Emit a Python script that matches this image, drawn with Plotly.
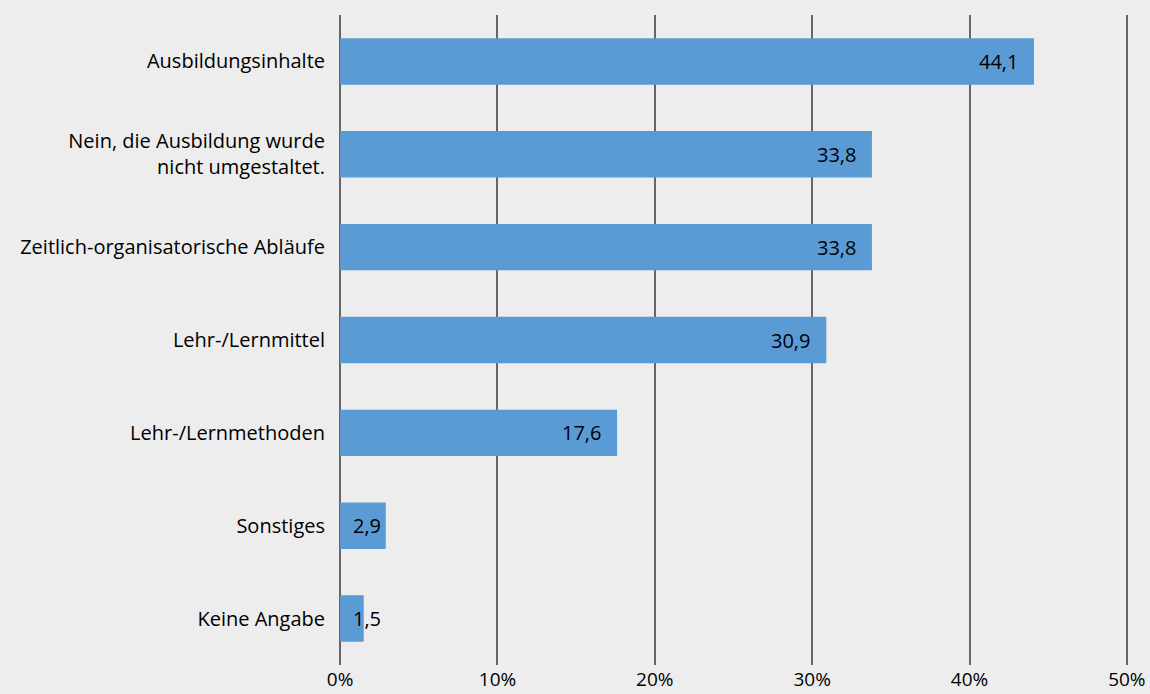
import plotly.graph_objects as go

categories = [
    "Ausbildungsinhalte",
    "Nein, die Ausbildung wurde<br>nicht umgestaltet.",
    "Zeitlich-organisatorische Abläufe",
    "Lehr-/Lernmittel",
    "Lehr-/Lernmethoden",
    "Sonstiges",
    "Keine Angabe",
]
values = [44.1, 33.8, 33.8, 30.9, 17.6, 2.9, 1.5]
tick_vals = [0, 10, 20, 30, 40, 50]
tick_text = ["0%", "10%", "20%", "30%", "40%", "50%"]

FONT = "Open Sans"
FS = 20
BG = "#ededed"
BAR = "#5b9bd5"

fig = go.Figure(
    go.Bar(
        y=categories,
        x=values,
        orientation="h",
        marker=dict(color=BAR, line=dict(width=0)),
        width=0.5,
        hoverinfo="skip",
    )
)

for cat, v in zip(categories, values):
    label = f"{v:.1f}".replace(".", ",")
    if v >= 10:
        fig.add_annotation(x=v, y=cat, text=label, xanchor="right", xshift=-14,
                           showarrow=False, font=dict(family=FONT, size=FS, color="#000"))
    else:
        fig.add_annotation(x=0, y=cat, text=label, xanchor="left", xshift=11,
                           showarrow=False, font=dict(family=FONT, size=FS, color="#000"))

fig.update_layout(
    width=1150,
    height=694,
    paper_bgcolor=BG,
    plot_bgcolor=BG,
    margin=dict(l=337, r=20, t=15, b=29),
    showlegend=False,
    font=dict(family=FONT, size=FS, color="#000"),
    xaxis=dict(
        range=[-0.2, 50.2],
        tickvals=tick_vals,
        ticktext=tick_text,
        showgrid=True,
        gridcolor="#666666",
        gridwidth=2,
        zeroline=False,
        showline=False,
        ticks="",
        ticklabelstandoff=1,
        tickfont=dict(family=FONT, size=19, color="#000"),
        automargin=False,
        fixedrange=True,
    ),
    yaxis=dict(
        autorange="reversed",
        showgrid=False,
        zeroline=False,
        ticks="",
        ticklabelstandoff=11,
        tickfont=dict(family=FONT, size=FS, color="#000"),
        automargin=False,
        fixedrange=True,
    ),
)

fig.write_html("out.html", config={"displayModeBar": False},
               post_script="document.body.style.margin='0';")
